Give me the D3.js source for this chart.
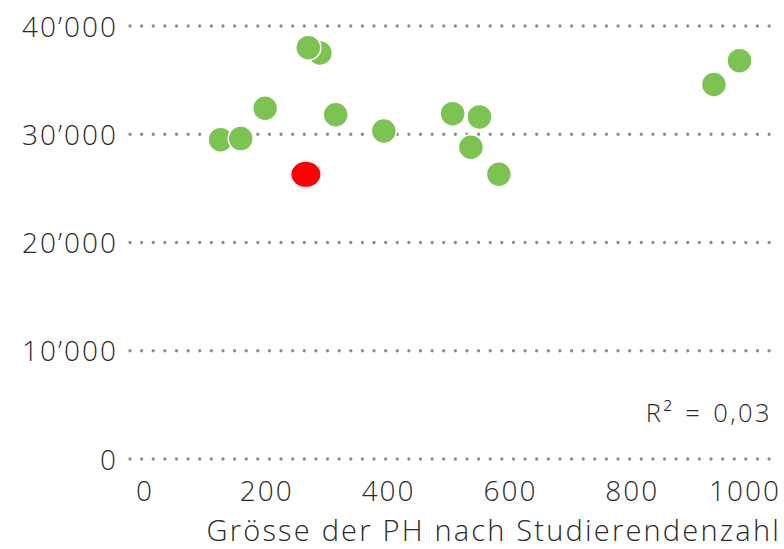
<!DOCTYPE html>
<html><head><meta charset="utf-8">
<script src="https://cdn.jsdelivr.net/npm/d3@7"></script>
<style>
body{margin:0;background:#fff;}
text{font-family:"Open Sans",sans-serif;font-weight:300;fill:#2b2b2b;}
</style></head>
<body>
<svg id="c" width="784" height="549"></svg>
<script>
const studentsGreen = [125,158,198,288,269,314,393,506,550,536,582,935,977];
const salaryGreen   = [29500,29600,32400,37500,38000,31800,30300,31900,31600,28800,26300,34600,36800];
const studentsRed = [265];
const salaryRed   = [26300];
const xTicks = [0,200,400,600,800,1000];
const yTicks = [0,10000,20000,30000,40000];
const xTitle = "Grösse der PH nach Studierendenzahl";
const r2Label = "R² = 0,03";

const svg = d3.select("#c");
const x = d3.scaleLinear().domain([0,1000]).range([144.5,753.5]);
const y = d3.scaleLinear().domain([0,40000]).range([459,26]);
const fmt = v => v===0 ? "0" : d3.format(",")(v).replace(",", "’");

// grid
svg.append("g").selectAll("line").data(yTicks).join("line")
  .attr("x1",130).attr("x2",772)
  .attr("y1",d=>y(d)).attr("y2",d=>y(d))
  .attr("stroke","#8c8c8c").attr("stroke-width",3.3)
  .attr("stroke-linecap","round").attr("stroke-dasharray","0,11.62");

// y axis
const ya = svg.append("g").attr("transform","translate(118,0)")
  .call(d3.axisLeft(y).tickValues(yTicks).tickSize(0).tickPadding(0).tickFormat(fmt));
ya.select(".domain").remove();
ya.selectAll("text").style("font-size","28px").style("letter-spacing","2px")
  .attr("dy","0.36em").attr("fill","#2b2b2b");

// x axis
const xa = svg.append("g").attr("transform","translate(0,474)")
  .call(d3.axisBottom(x).tickValues(xTicks).tickSize(0).tickPadding(0).tickFormat(d=>String(d)));
xa.select(".domain").remove();
xa.selectAll("text").style("font-size","28px").style("letter-spacing","2px")
  .attr("dy","0.97em").attr("fill","#2b2b2b");
xa.selectAll(".tick").filter(d=>d===1000).select("text").attr("dx","-9");

svg.append("text").attr("x",781).attr("y",541).attr("text-anchor","end")
  .style("font-size","29px").style("letter-spacing","2.2px").text(xTitle);

svg.append("text").attr("x",772).attr("y",422).attr("text-anchor","end")
  .style("font-size","25.5px").style("letter-spacing","2.4px").style("word-spacing","2px").text(r2Label);

// points
const green = studentsGreen.map((v,i)=>({x:v,y:salaryGreen[i]}));
svg.append("g").selectAll("circle").data(green).join("circle")
  .attr("cx",d=>x(d.x)).attr("cy",d=>y(d.y)).attr("r",12.5)
  .attr("fill","#7dc353").attr("stroke","#fff").attr("stroke-width",1.5);
const red = studentsRed.map((v,i)=>({x:v,y:salaryRed[i]}));
svg.append("g").selectAll("ellipse").data(red).join("ellipse")
  .attr("cx",d=>x(d.x)).attr("cy",d=>y(d.y)).attr("rx",14.5).attr("ry",12.5)
  .attr("fill","#ff0000");
</script>
</body></html>
